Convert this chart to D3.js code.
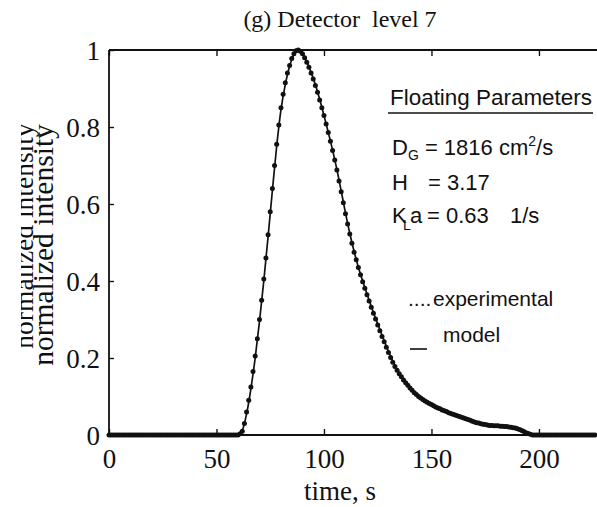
<!DOCTYPE html>
<html>
<head>
<meta charset="utf-8">
<script src="https://cdn.jsdelivr.net/npm/d3@7"></script>
<style>
  html, body { margin: 0; padding: 0; background: #fff; }
  svg { display: block; }
  .serif { font-family: "Liberation Serif", "Times New Roman", serif; }
  .sans { font-family: "Liberation Sans", Arial, Helvetica, sans-serif; }
</style>
</head>
<body>
<svg id="chart" width="597" height="507"></svg>
<script>
// Breakthrough curve, detector level 7: normalized intensity vs time (s)

// Experimental samples, one every second starting at t = 0 s
const expStart = 0;
const expStep = 1;
const expValues = [
  0, 0, 0, 0, 0, 0, 0, 0, 0, 0,
  0, 0, 0, 0, 0, 0, 0, 0, 0, 0,
  0, 0, 0, 0, 0, 0, 0, 0, 0, 0,
  0, 0, 0, 0, 0, 0, 0, 0, 0, 0,
  0, 0, 0, 0, 0, 0, 0, 0, 0, 0,
  0, 0, 0, 0, 0, 0, 0, 0, 0, 0,
  0, 0.003, 0.01, 0.03, 0.06, 0.09, 0.125, 0.165, 0.205, 0.25,
  0.30, 0.35, 0.405, 0.46, 0.52, 0.58, 0.64, 0.70, 0.755, 0.805,
  0.85, 0.885, 0.915, 0.94, 0.96, 0.978, 0.99, 0.998, 1.0, 0.997,
  0.99, 0.98, 0.968, 0.955, 0.94, 0.925, 0.908, 0.89, 0.87, 0.85,
  0.83, 0.808, 0.786, 0.763, 0.739, 0.714, 0.688, 0.66, 0.632, 0.603,
  0.575, 0.548, 0.522, 0.498, 0.475, 0.455, 0.435, 0.416, 0.398, 0.381,
  0.364, 0.348, 0.332, 0.316, 0.301, 0.286, 0.271, 0.256, 0.242, 0.228,
  0.214, 0.201, 0.189, 0.178, 0.168, 0.159, 0.151, 0.143, 0.136, 0.129,
  0.122, 0.116, 0.11, 0.105, 0.1, 0.096, 0.092, 0.088, 0.085, 0.082,
  0.079, 0.076, 0.073, 0.07, 0.068, 0.065, 0.063, 0.061, 0.058, 0.056,
  0.054, 0.052, 0.05, 0.048, 0.046, 0.044, 0.042, 0.04, 0.038, 0.036,
  0.034, 0.032, 0.031, 0.029, 0.028, 0.027, 0.026, 0.025, 0.025, 0.024,
  0.024, 0.024, 0.023, 0.023, 0.022, 0.022, 0.021, 0.02, 0.019, 0.018,
  0.016, 0.014, 0.012, 0.009, 0.006, 0.004, 0.002, 0, 0, 0,
  0, 0, 0, 0, 0, 0, 0, 0, 0, 0,
  0, 0, 0, 0, 0, 0, 0, 0, 0, 0,
  0, 0, 0, 0, 0, 0, 0
];

// Model curve (times in s, values normalized)
const modelTimes = [
  0, 56, 58, 60, 62, 64, 66, 68, 70, 72, 74, 76, 78, 80, 82, 84, 86, 88, 90,
  92, 94, 96, 98, 100, 102, 104, 106, 108, 110, 112, 114, 116, 118, 120,
  122, 124, 126, 128, 130, 132, 134, 136, 138, 140, 142, 144, 146, 148, 150,
  152, 154, 156, 158, 160, 162, 164, 166, 168, 170, 172, 174, 176, 178, 180,
  182, 184, 186, 188, 190, 192, 194, 196, 198, 200, 227
];
const modelValues = [
  0, 0, 0, 0.002, 0.012, 0.055, 0.12, 0.2, 0.295, 0.40, 0.515, 0.635, 0.75, 0.845, 0.91, 0.958, 0.988, 1.0, 0.992,
  0.97, 0.942, 0.91, 0.872, 0.83, 0.786, 0.74, 0.69, 0.634, 0.577, 0.524, 0.477, 0.436, 0.4, 0.366,
  0.334, 0.303, 0.274, 0.245, 0.217, 0.192, 0.17, 0.152, 0.137, 0.123, 0.112, 0.102, 0.093, 0.086, 0.08,
  0.074, 0.069, 0.064, 0.06, 0.055, 0.051, 0.047, 0.044, 0.04, 0.036, 0.033, 0.03, 0.028, 0.026, 0.025,
  0.024, 0.023, 0.022, 0.02, 0.017, 0.013, 0.008, 0.003, 0, 0, 0
];

const xTicks = [0, 50, 100, 150, 200];
const yTicks = [0, 0.2, 0.4, 0.6, 0.8, 1];
const yTickLabels = ["0", "0.2", "0.4", "0.6", "0.8", "1"];

const titleText = "(g) Detector\u00a0\u00a0level 7";
const xLabel = "time, s";
const yLabel = "normalized intensity";
const legendItems = ["experimental", "model"];

// ---- layout ----
const W = 597, H = 507;
const plotLeft = 109, plotTop = 50, plotBottom = 435, plotRight = 597;
const svg = d3.select("#chart");

const x = d3.scaleLinear().domain([0, 227]).range([plotLeft, plotRight]);
const y = d3.scaleLinear().domain([0, 1]).range([plotBottom, plotTop]);

const expData = expValues.map((v, i) => ({ t: expStart + i * expStep, v }));
const modelData = modelTimes.map((t, i) => ({ t, v: modelValues[i] }));

const ink = "#111";
const axisFont = 27;

// bottom axis (ticks point inward)
const gx = svg.append("g")
  .attr("transform", `translate(0,${plotBottom})`)
  .call(d3.axisBottom(x).tickValues(xTicks).tickSizeInner(-6).tickSizeOuter(0).tickPadding(0));
gx.select(".domain").remove();
gx.selectAll(".tick line").attr("stroke", ink).attr("stroke-width", 1.4);
gx.selectAll(".tick text")
  .attr("class", "serif")
  .attr("font-size", axisFont)
  .attr("fill", ink)
  .attr("dy", null)
  .attr("y", 33);

// top axis (unlabelled)
const gt = svg.append("g")
  .attr("transform", `translate(0,${plotTop})`)
  .call(d3.axisTop(x).tickValues(xTicks).tickSizeInner(-6).tickSizeOuter(0).tickFormat(""));
gt.select(".domain").remove();
gt.selectAll(".tick line").attr("stroke", ink).attr("stroke-width", 1.4);

// left axis
const gy = svg.append("g")
  .attr("transform", `translate(${plotLeft},0)`)
  .call(d3.axisLeft(y).tickValues(yTicks).tickSizeInner(-5).tickSizeOuter(0)
    .tickFormat((d, i) => yTickLabels[i]).tickPadding(9));
gy.select(".domain").remove();
gy.selectAll(".tick line").attr("stroke", ink).attr("stroke-width", 1.4);
gy.selectAll(".tick text")
  .attr("class", "serif")
  .attr("font-size", axisFont)
  .attr("fill", ink)
  .attr("dy", "0.34em");

// frame
const frame = svg.append("g").attr("stroke", ink).attr("stroke-width", 1.8).attr("fill", "none");
frame.append("line").attr("x1", plotLeft).attr("x2", plotRight).attr("y1", plotTop).attr("y2", plotTop);
frame.append("line").attr("x1", plotLeft).attr("x2", plotRight).attr("y1", plotBottom).attr("y2", plotBottom);
frame.append("line").attr("x1", plotLeft).attr("x2", plotLeft).attr("y1", plotTop).attr("y2", plotBottom);

// model line
const line = d3.line().x(d => x(d.t)).y(d => y(d.v)).curve(d3.curveMonotoneX);
svg.append("path")
  .datum(modelData)
  .attr("d", line)
  .attr("fill", "none")
  .attr("stroke", ink)
  .attr("stroke-width", 1.7);

// experimental points
svg.append("g")
  .selectAll("circle")
  .data(expData)
  .join("circle")
  .attr("cx", d => x(d.t))
  .attr("cy", d => y(d.v))
  .attr("r", 2.5)
  .attr("fill", ink);

// title
svg.append("text")
  .attr("class", "serif")
  .attr("x", 340).attr("y", 27)
  .attr("text-anchor", "middle")
  .attr("font-size", 24)
  .attr("fill", ink)
  .text(titleText);

// x label
svg.append("text")
  .attr("class", "serif")
  .attr("x", 340).attr("y", 500)
  .attr("text-anchor", "middle")
  .attr("font-size", axisFont)
  .attr("fill", ink)
  .text(xLabel);

// y label, printed twice with a slight offset; the outer copy is trimmed at the page edge
svg.append("clipPath").attr("id", "edgeClip")
  .append("rect").attr("x", 21).attr("y", 0).attr("width", W).attr("height", H);
svg.append("g")
  .attr("clip-path", "url(#edgeClip)")
  .append("text")
  .attr("class", "serif")
  .attr("transform", "translate(33,236) rotate(-90)")
  .attr("text-anchor", "middle")
  .attr("font-size", 27.5)
  .attr("fill", ink)
  .text(yLabel);
svg.append("text")
  .attr("class", "serif")
  .attr("transform", "translate(53,245) rotate(-90)")
  .attr("text-anchor", "middle")
  .attr("font-size", 29.5)
  .attr("fill", ink)
  .text(yLabel);

// floating parameters block
const pFont = 22;
const subFont = 14;
const params = svg.append("g").attr("class", "sans").attr("fill", ink).attr("font-size", pFont);
params.append("text").attr("x", 390).attr("y", 105)
  .attr("textLength", 202).attr("lengthAdjust", "spacingAndGlyphs")
  .text("Floating Parameters");
params.append("line")
  .attr("x1", 388).attr("x2", 593).attr("y1", 113).attr("y2", 113)
  .attr("stroke", ink).attr("stroke-width", 1.6);

const p1 = params.append("text").attr("x", 392).attr("y", 155);
p1.append("tspan").text("D");
p1.append("tspan").attr("font-size", subFont).attr("dy", 5).text("G");
p1.append("tspan").attr("dy", -5).text(" = 1816 cm");
p1.append("tspan").attr("font-size", subFont).attr("dy", -9).text("2");
p1.append("tspan").attr("dy", 9).text("/s");

const p2 = params.append("text").attr("y", 190);
p2.append("tspan").attr("x", 392).text("H");
p2.append("tspan").attr("x", 428).text("= 3.17");

const p3 = params.append("text").attr("y", 223);
p3.append("tspan").attr("x", 392).text("K");
p3.append("tspan").attr("font-size", subFont).attr("x", 403).attr("dy", 7).text("L");
p3.append("tspan").attr("x", 410).attr("dy", -7).text("a");
p3.append("tspan").attr("x", 427).text("= 0.63");
p3.append("tspan").attr("x", 510).text("1/s");

// legend
const leg = svg.append("g").attr("class", "sans").attr("fill", ink).attr("font-size", 21);
leg.append("text").attr("x", 408).attr("y", 306).text("....");
leg.append("text").attr("x", 433).attr("y", 306).text(legendItems[0]);
leg.append("line")
  .attr("x1", 410).attr("x2", 427).attr("y1", 349).attr("y2", 349)
  .attr("stroke", ink).attr("stroke-width", 1.6);
leg.append("text").attr("x", 443).attr("y", 342).text(legendItems[1]);
</script>
</body>
</html>
